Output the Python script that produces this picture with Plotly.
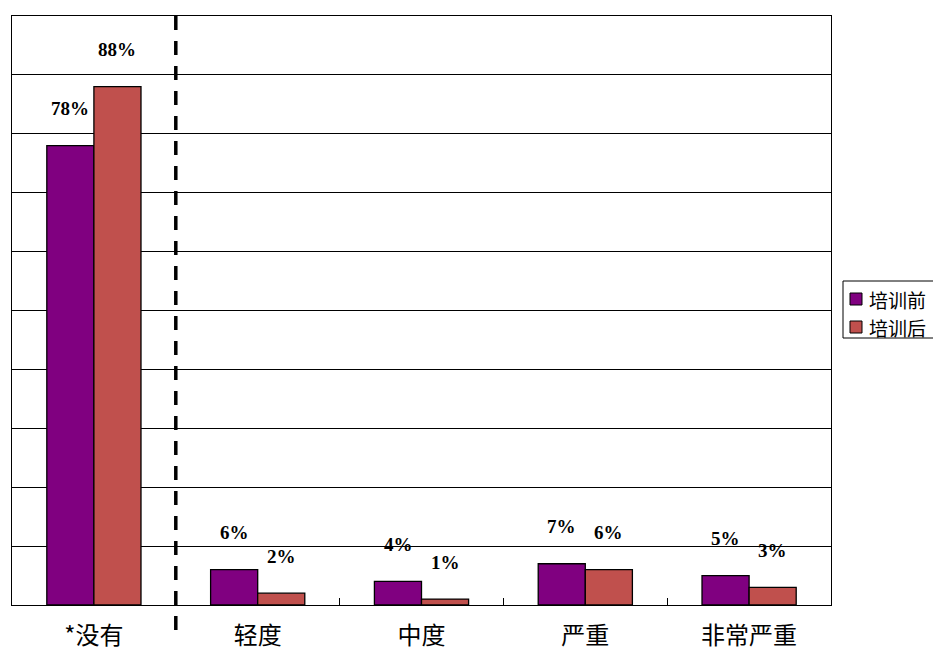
import plotly.graph_objects as go

categories = ["*没有", "轻度", "中度", "严重", "非常严重"]
before = [78, 6, 4, 7, 5]
after = [88, 2, 1, 6, 3]
series_names = ["培训前", "培训后"]
colors = ["#800080", "#C0504D"]

W, H = 933, 652
M_L, M_R, M_T, M_B = 12, 102, 16, 47
PLOT_W = W - M_L - M_R
PLOT_H = H - M_T - M_B


def px_x(p):
    """pixel column -> paper x"""
    return (p - M_L) / PLOT_W


def px_y(p):
    """pixel row -> paper y"""
    return (H - M_B - p) / PLOT_H


fig = go.Figure()
for name, vals, col in zip(series_names, [before, after], colors):
    fig.add_trace(go.Bar(
        name=name, x=categories, y=[v / 100 for v in vals],
        marker=dict(color=col, line=dict(color="#000000", width=1.3)),
        showlegend=False,
    ))

# value labels above each bar, bold serif
label_font = dict(family="Liberation Serif", size=19, color="#000000")
for shift, vals in ((-23.5, before), (23.5, after)):
    for cat, v in zip(categories, vals):
        fig.add_annotation(
            x=cat, y=v / 100, xref="x", yref="y", text=f"<b>{v}%</b>",
            showarrow=False, xshift=shift, yshift=37, font=label_font,
        )

# dashed separator between the first category and the rest
fig.add_shape(
    type="line", xref="x", yref="paper", x0=0.5, x1=0.5, y0=1.0, y1=px_y(631),
    line=dict(color="#000000", width=3.5, dash="14px,11px"),
)

# legend box on the right edge
fig.add_shape(
    type="rect", xref="paper", yref="paper",
    x0=px_x(843), x1=px_x(945), y0=px_y(338), y1=px_y(281),
    line=dict(color="#000000", width=1), fillcolor="#FFFFFF",
)
for i, (name, col) in enumerate(zip(series_names, colors)):
    cy = 299 + 28 * i
    fig.add_shape(
        type="rect", xref="paper", yref="paper",
        x0=px_x(850), x1=px_x(862), y0=px_y(cy + 6), y1=px_y(cy - 6),
        line=dict(color="#000000", width=1), fillcolor=col,
    )
    fig.add_annotation(
        x=px_x(867), y=px_y(cy), xref="paper", yref="paper", text=name,
        showarrow=False, xanchor="left", yanchor="middle",
        font=dict(family="Noto Sans CJK SC", size=19, color="#000000"),
    )

fig.update_layout(
    width=W, height=H,
    margin=dict(l=M_L, r=M_R, t=M_T, b=M_B, autoexpand=False),
    paper_bgcolor="#FFFFFF", plot_bgcolor="#FFFFFF",
    barmode="group", bargap=0.425, bargroupgap=0.0,
    showlegend=False,
    xaxis=dict(
        type="category", range=[-0.5, 4.5],
        showline=True, linecolor="#000000", linewidth=1, mirror=True,
        ticks="inside", tickson="boundaries", ticklen=7, tickcolor="#000000",
        tickfont=dict(family="Noto Sans CJK SC", size=24, color="#000000"),
        ticklabelstandoff=9, showgrid=False,
    ),
    yaxis=dict(
        range=[0, 1], dtick=0.1, showticklabels=False, ticks="",
        showgrid=True, gridcolor="#000000", gridwidth=1,
        showline=True, linecolor="#000000", linewidth=1, mirror=True,
        zeroline=False,
    ),
)

fig.write_html("out.html")
